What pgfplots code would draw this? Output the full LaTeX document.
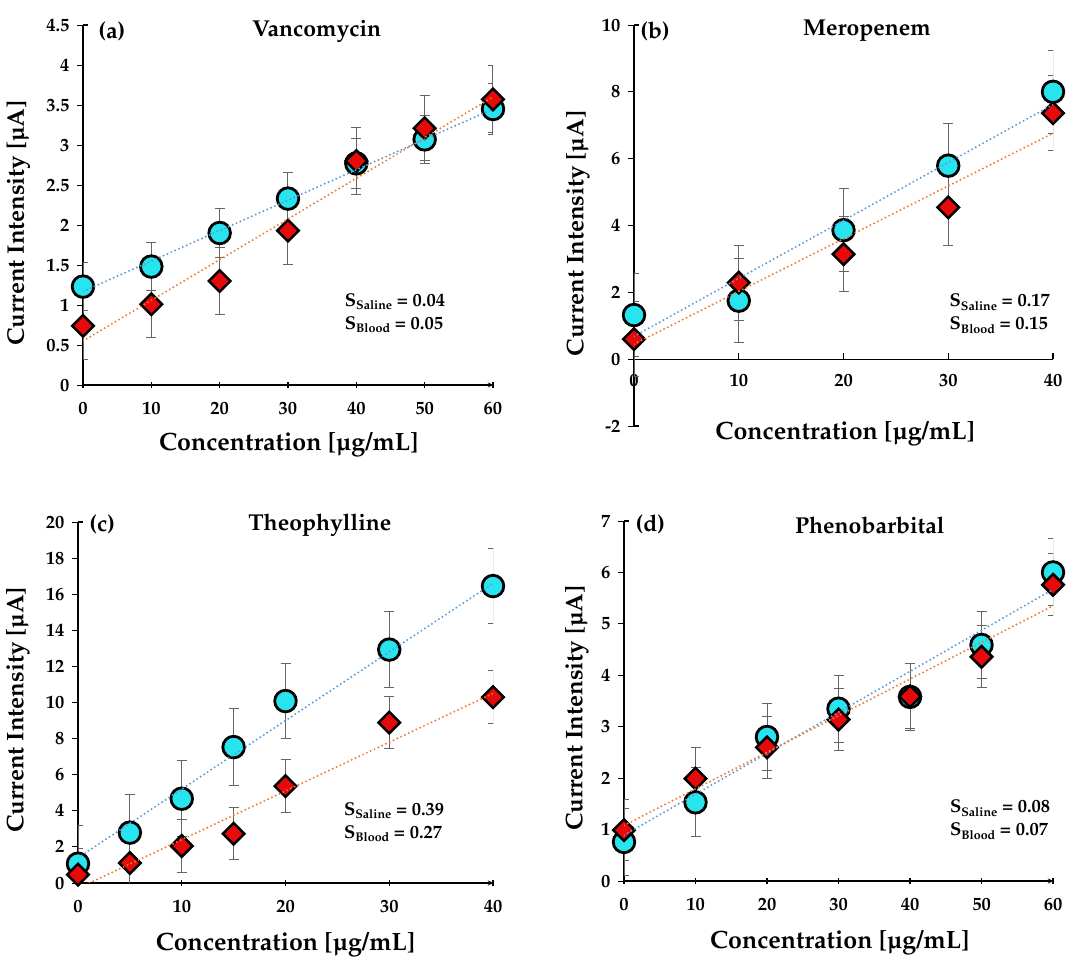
\documentclass[border=0pt]{standalone}
\usepackage[T1]{fontenc}
\usepackage{mathpazo}
\usepackage{pgfplots}
\usepackage{pgfplotstable}
\pgfplotsset{compat=1.18}
\definecolor{mycyan}{RGB}{40,228,238}
\definecolor{myred}{RGB}{230,10,10}
\definecolor{tblue}{RGB}{91,155,213}
\definecolor{torange}{RGB}{237,125,49}
\definecolor{errgray}{RGB}{100,100,100}

\pgfplotstableread{
x cy ce ry re
0 1.23 0.30 0.74 0.42
10 1.48 0.30 1.01 0.42
20 1.90 0.31 1.30 0.42
30 2.33 0.32 1.93 0.43
40 2.77 0.31 2.80 0.42
50 3.07 0.30 3.21 0.41
60 3.45 0.32 3.57 0.42
}\dataA
\pgfplotstableread{
x cy ce ry re
0 1.32 1.25 0.60 1.12
10 1.75 1.26 2.29 1.12
20 3.86 1.25 3.14 1.12
30 5.79 1.25 4.54 1.15
40 8.00 1.25 7.36 1.12
}\dataB
\pgfplotstableread{
x cy ce ry re
0 1.07 2.10 0.46 1.45
5 2.79 2.12 1.11 1.45
10 4.67 2.09 2.05 1.47
15 7.53 2.13 2.73 1.44
20 10.08 2.10 5.37 1.45
30 12.93 2.10 8.88 1.45
40 16.45 2.10 10.30 1.47
}\dataC
\pgfplotstableread{
x cy ce ry re
0 0.76 0.65 0.99 0.60
10 1.53 0.67 1.99 0.60
20 2.80 0.65 2.60 0.60
30 3.35 0.65 3.14 0.60
40 3.58 0.65 3.59 0.63
50 4.59 0.65 4.36 0.60
60 6.00 0.65 5.76 0.60
}\dataD

\newcommand{\xlblfont}{\bfseries\fontsize{25}{28}\selectfont}
\newcommand{\ylblfont}{\bfseries\fontsize{24}{27}\selectfont}
\newcommand{\ttlfont}{\bfseries\fontsize{23}{26}\selectfont}
\newcommand{\tkfont}{\bfseries\fontsize{18.5}{20}\selectfont}
\newcommand{\annot}[2]{S\raisebox{-3.5pt}{\fontsize{12.5}{13}\selectfont #1} = #2}

\tikzset{annotnode/.style={anchor=west, align=left, font=\bfseries\fontsize{18.5}{23}\selectfont}}

\pgfplotsset{
  panel/.style={
    scale only axis,
    axis y line=left,
    axis line style={-, line width=1.3pt, black},
    xticklabel={\tkfont\pgfmathprintnumber[assume math mode=true]{\tick}},
    yticklabel={\tkfont\pgfmathprintnumber[assume math mode=true]{\tick}},
    tick label style={black},
    tick align=inside,
    major tick length=6pt,
    xtick style={line width=1.2pt, black},
    ytick style={line width=0.9pt, black, xshift=-6pt},
    xticklabel style={yshift=-11pt},
    yticklabel style={xshift=-10pt},
    xlabel style={font=\xlblfont},
    ylabel style={font=\ylblfont},
    clip mode=individual,
  },
  errC/.style={only marks, mark=none, forget plot,
    error bars/.cd, y dir=both, y explicit,
    error bar style={line width=1pt, color=errgray},
    error mark options={rotate=90, mark size=5pt, line width=1pt, color=errgray}},
  cmark/.style={only marks, mark=*, mark size=10.8pt,
    mark options={fill=mycyan, draw=black, line width=2.8pt}},
  rmark/.style={only marks, mark=square*, mark size=7.6pt,
    mark options={rotate=45, fill=myred, draw=black, line width=2.5pt}},
  tline/.style={no marks, line width=2.2pt, line cap=round, dash pattern=on 0pt off 4.2pt},
}

\begin{document}
\begin{tikzpicture}
\path[use as bounding box] (0,0) rectangle (1073pt,958pt);

% (a)
\begin{axis}[panel, at={(83pt,573pt)}, anchor=south west, width=410pt, height=360pt,
  axis x line=bottom,
  xmin=0, xmax=60, ymin=0, ymax=4.5,
  xtick={0,10,...,60}, ytick={0,0.5,...,4.5},
  xlabel={Concentration [\textmu g/mL]}, ylabel={Current Intensity [\textmu A]},
  xlabel style={at={(axis description cs:0.502,-0.167)}, anchor=center},
  ylabel style={at={(axis description cs:-0.158,0.45)}, anchor=center}]
\addplot[errC] table[x=x, y=cy, y error=ce] {\dataA};
\addplot[errC] table[x=x, y=ry, y error=re] {\dataA};
\addplot[cmark] table[x=x, y=cy] {\dataA};
\addplot[rmark] table[x=x, y=ry] {\dataA};
\addplot[tline, tblue] coordinates {(0,1.17) (60,3.45)};
\addplot[tline, torange] coordinates {(0,0.55) (60,3.60)};
\draw[line width=1.3pt] (axis cs:0,4.5) -- ++(5pt,0pt);
\node[anchor=west, font=\ttlfont] at (axis description cs:0.029,0.983) {(a)};
\node[anchor=center, font=\ttlfont] at (axis description cs:0.57,0.983) {Vancomycin};
\node[annotnode] at (axis cs:37.8,0.9) {\annot{Saline}{0.04}\\\annot{Blood}{0.05}};
\end{axis}

% (b)
\begin{axis}[panel, at={(634pt,532pt)}, anchor=south west, width=419pt, height=401pt,
  axis x line*=middle,
  x axis line style={-},
  hide obscured x ticks=false,
  xmin=0, xmax=40, ymin=-2, ymax=10,
  xtick={0,10,...,40}, ytick={-2,0,...,10},
  xlabel={Concentration [\textmu g/mL]}, ylabel={Current Intensity [\textmu A]},
  xlabel style={at={(axis description cs:0.504,-0.02)}, anchor=center},
  ylabel style={at={(axis description cs:-0.134,0.48)}, anchor=center}]
\addplot[errC] table[x=x, y=cy, y error=ce] {\dataB};
\addplot[errC] table[x=x, y=ry, y error=re] {\dataB};
\addplot[cmark] table[x=x, y=cy] {\dataB};
\addplot[rmark] table[x=x, y=ry] {\dataB};
\addplot[tline, tblue] coordinates {(0,0.68) (40,7.62)};
\addplot[tline, torange] coordinates {(0,0.45) (40,6.76)};
\draw[line width=1.3pt] (axis cs:0,10) -- ++(5pt,0pt);
\draw[line width=1.3pt] (axis cs:0,-2) -- ++(5pt,0pt);
\node[anchor=west, font=\ttlfont] at (axis description cs:0.007,0.985) {(b)};
\node[anchor=center, font=\ttlfont] at (axis description cs:0.556,0.985) {Meropenem};
\node[annotnode] at (axis cs:29.8,1.37) {\annot{Saline}{0.17}\\\annot{Blood}{0.15}};
\end{axis}

% (c)
\begin{axis}[panel, at={(78pt,75pt)}, anchor=south west, width=415pt, height=361pt,
  axis x line=bottom,
  xmin=0, xmax=40, ymin=0, ymax=20,
  xtick={0,10,...,40}, ytick={0,2,...,20},
  xlabel={Concentration [\textmu g/mL]}, ylabel={Current Intensity [\textmu A]},
  xlabel style={at={(axis description cs:0.50,-0.172)}, anchor=center},
  ylabel style={at={(axis description cs:-0.145,0.48)}, anchor=center}]
\addplot[errC] table[x=x, y=cy, y error=ce] {\dataC};
\addplot[errC] table[x=x, y=ry, y error=re] {\dataC};
\addplot[cmark] table[x=x, y=cy] {\dataC};
\addplot[rmark] table[x=x, y=ry] {\dataC};
\addplot[tline, tblue] coordinates {(0,1.4) (40,16.6)};
\addplot[tline, torange] coordinates {(0,-0.3) (40,10.5)};
\draw[line width=1.3pt] (axis cs:0,20) -- ++(5pt,0pt);
\node[anchor=west, font=\ttlfont] at (axis description cs:0.019,0.992) {(c)};
\node[anchor=center, font=\ttlfont] at (axis description cs:0.583,0.992) {Theophylline};
\node[annotnode] at (axis cs:25.3,3.38) {\annot{Saline}{0.39}\\\annot{Blood}{0.27}};
\end{axis}

% (d)
\begin{axis}[panel, at={(624pt,77pt)}, anchor=south west, width=429pt, height=360pt,
  axis x line=bottom,
  xmin=0, xmax=60, ymin=0, ymax=7,
  xtick={0,10,...,60}, ytick={0,1,...,7},
  xlabel={Concentration [\textmu g/mL]}, ylabel={Current Intensity [\textmu A]},
  xlabel style={at={(axis description cs:0.503,-0.172)}, anchor=center},
  ylabel style={at={(axis description cs:-0.11,0.48)}, anchor=center}]
\addplot[errC] table[x=x, y=cy, y error=ce] {\dataD};
\addplot[errC] table[x=x, y=ry, y error=re] {\dataD};
\addplot[cmark] table[x=x, y=cy] {\dataD};
\addplot[rmark] table[x=x, y=ry] {\dataD};
\addplot[tline, tblue] coordinates {(0,0.89) (60,5.67)};
\addplot[tline, torange] coordinates {(0,1.08) (60,5.35)};
\draw[line width=1.3pt] (axis cs:0,7) -- ++(5pt,0pt);
\node[anchor=west, font=\ttlfont] at (axis description cs:0.019,0.989) {(d)};
\node[anchor=center, font=\ttlfont] at (axis description cs:0.573,0.989) {Phenobarbital};
\node[annotnode] at (axis cs:45.1,1.19) {\annot{Saline}{0.08}\\\annot{Blood}{0.07}};
\end{axis}
\end{tikzpicture}
\end{document}
